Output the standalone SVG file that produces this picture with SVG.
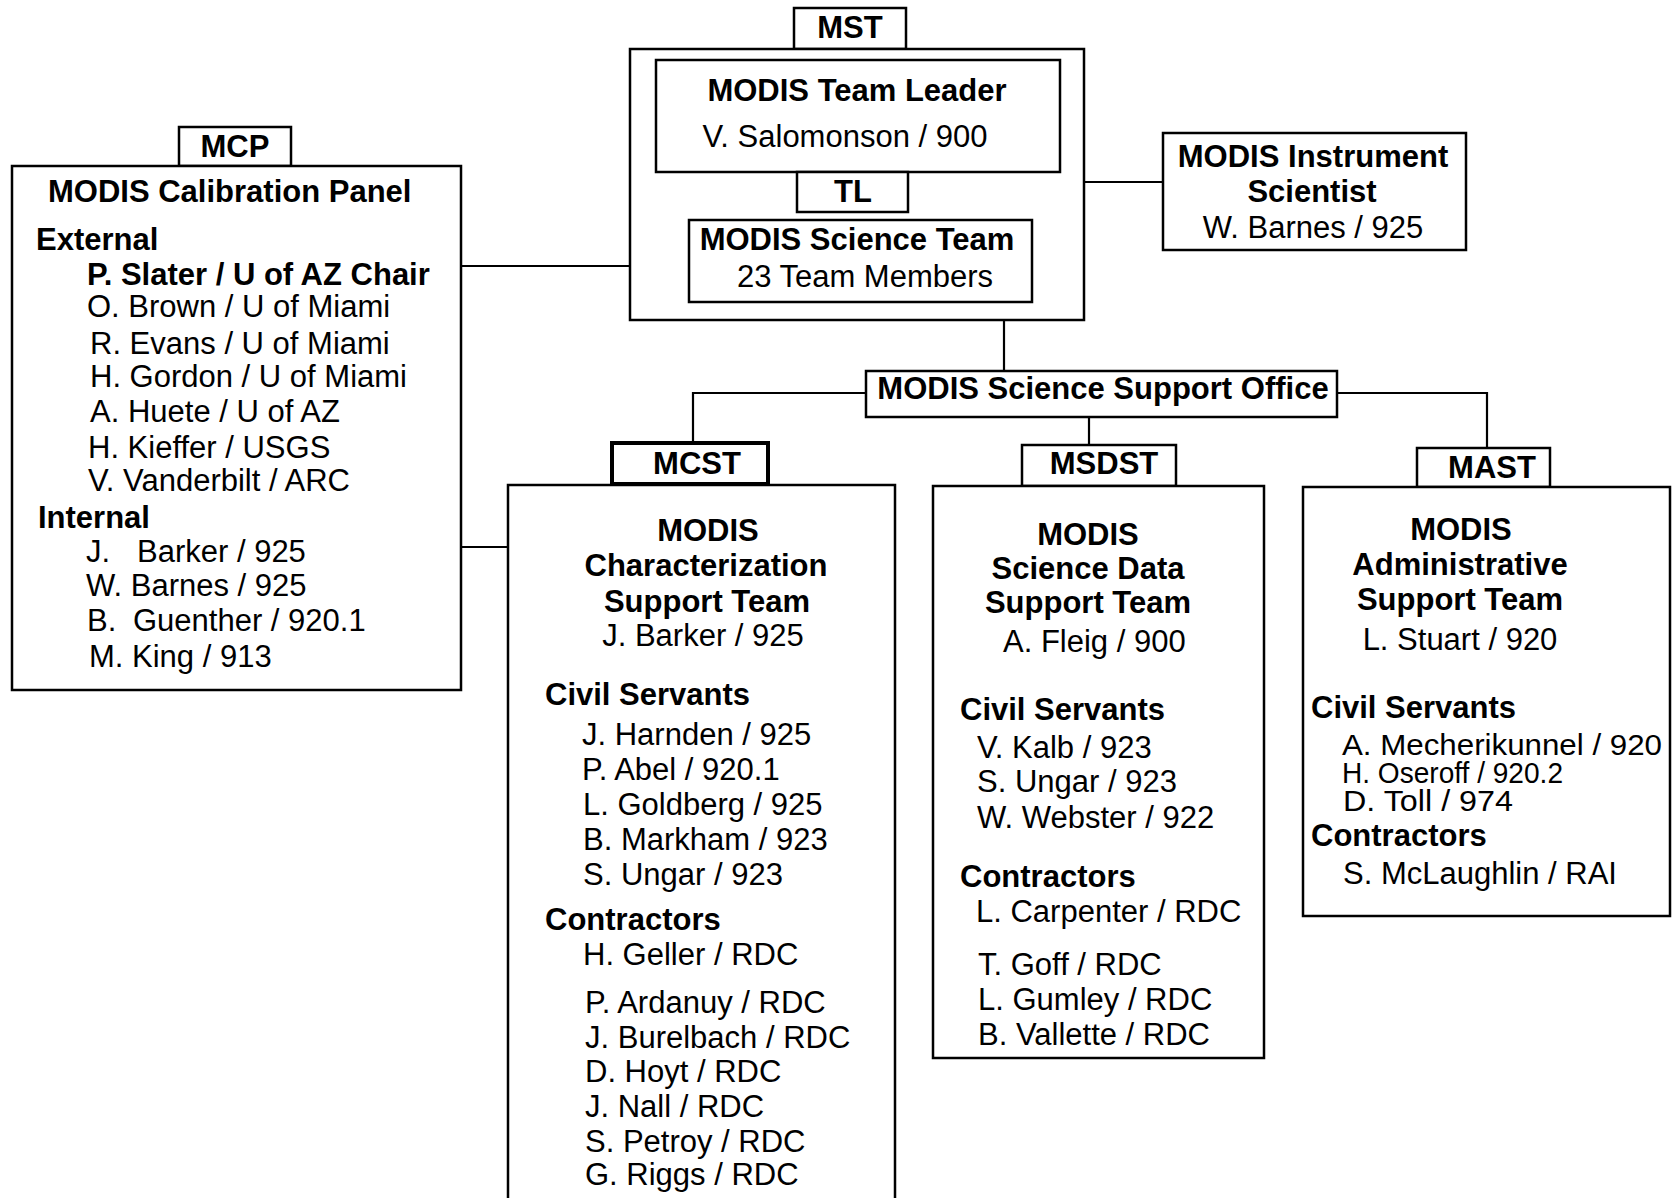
<svg xmlns="http://www.w3.org/2000/svg" width="1674" height="1198" viewBox="0 0 1674 1198">
<style>
text{font-family:"Liberation Sans",Arial,Helvetica,sans-serif;font-size:31px;fill:#000}
.b{font-weight:bold}
.c{text-anchor:middle}
.s{font-size:29px}
.box{fill:#fff;stroke:#000;stroke-width:2.5}
.tab{fill:#fff;stroke:#000;stroke-width:2.5}
.thick{stroke-width:4}
.con{fill:none;stroke:#000;stroke-width:2.2}
</style>
<rect width="1674" height="1198" fill="#fff"/>
<g id="connectors">
<path class="con" d="M461,266 H630"/>
<path class="con" d="M1084,182 H1163"/>
<path class="con" d="M1004,320 V371"/>
<path class="con" d="M866,393 H693 V442"/>
<path class="con" d="M1089,417 V445"/>
<path class="con" d="M1337,393 H1487 V448"/>
<path class="con" d="M461,547 H508"/>
</g>
<g id="mcp">
<rect class="tab" x="179" y="127" width="112" height="39"/>
<text class="b c" x="235" y="157">MCP</text>
<rect class="box" x="12" y="166" width="449" height="524"/>
<text class="b" x="48" y="202">MODIS Calibration Panel</text>
<text class="b" x="36" y="250">External</text>
<text class="b" x="87" y="285">P. Slater / U of AZ Chair</text>
<text x="87" y="317">O. Brown / U of Miami</text>
<text x="90" y="354">R. Evans / U of Miami</text>
<text x="90" y="387">H. Gordon / U of Miami</text>
<text x="90" y="422">A. Huete / U of AZ</text>
<text x="88" y="458">H. Kieffer / USGS</text>
<text x="88" y="491">V. Vanderbilt / ARC</text>
<text class="b" x="38" y="528">Internal</text>
<text x="86" y="562">J.<tspan x="137">Barker / 925</tspan></text>
<text x="86" y="596">W. Barnes / 925</text>
<text x="87" y="631">B.<tspan x="133">Guenther / 920.1</tspan></text>
<text x="89" y="667">M. King / 913</text>
</g>
<g id="mst">
<rect class="tab" x="794" y="8" width="112" height="41"/>
<text class="b c" x="850" y="38">MST</text>
<rect class="box" x="630" y="49" width="454" height="271"/>
<g id="tl">
<rect class="box" x="656" y="60" width="404" height="112"/>
<text class="b c" x="857" y="101">MODIS Team Leader</text>
<text class="c" x="845" y="147">V. Salomonson / 900</text>
<rect class="tab" x="797" y="172" width="111" height="40"/>
<text class="b c" x="853" y="202">TL</text>
</g>
<g id="science-team">
<rect class="box" x="689" y="220" width="343" height="82"/>
<text class="b c" x="857" y="250">MODIS Science Team</text>
<text class="c" x="865" y="287">23 Team Members</text>
</g>
</g>
<g id="mis">
<rect class="box" x="1163" y="133" width="303" height="117"/>
<text class="b c" x="1313" y="167">MODIS Instrument</text>
<text class="b c" x="1312" y="202">Scientist</text>
<text class="c" x="1313" y="238">W. Barnes / 925</text>
</g>
<g id="msso">
<rect class="box" x="866" y="371" width="471" height="46"/>
<text class="b c" x="1103" y="399">MODIS Science Support Office</text>
</g>
<g id="mcst">
<rect class="box" x="508" y="485" width="387" height="730"/>
<rect class="tab thick" x="612" y="443" width="156" height="41"/>
<text class="b c" x="697" y="474">MCST</text>
<text class="b c" x="708" y="541">MODIS</text>
<text class="b c" x="706" y="576">Characterization</text>
<text class="b c" x="707" y="612">Support Team</text>
<text class="c" x="703" y="646">J. Barker / 925</text>
<text class="b" x="545" y="705">Civil Servants</text>
<text x="582" y="745">J. Harnden / 925</text>
<text x="582" y="780">P. Abel / 920.1</text>
<text x="583" y="815">L. Goldberg / 925</text>
<text x="583" y="850">B. Markham / 923</text>
<text x="583" y="885">S. Ungar / 923</text>
<text class="b" x="545" y="930">Contractors</text>
<text x="583" y="965">H. Geller / RDC</text>
<text x="585" y="1013">P. Ardanuy / RDC</text>
<text x="585" y="1048">J. Burelbach / RDC</text>
<text x="585" y="1082">D. Hoyt / RDC</text>
<text x="585" y="1117">J. Nall / RDC</text>
<text x="585" y="1152">S. Petroy / RDC</text>
<text x="585" y="1185">G. Riggs / RDC</text>
</g>
<g id="msdst">
<rect class="tab" x="1022" y="445" width="154" height="41"/>
<text class="b c" x="1104" y="474">MSDST</text>
<rect class="box" x="933" y="486" width="331" height="572"/>
<text class="b c" x="1088" y="545">MODIS</text>
<text class="b c" x="1088" y="579">Science Data</text>
<text class="b c" x="1088" y="613">Support Team</text>
<text x="1003" y="652">A. Fleig / 900</text>
<text class="b" x="960" y="720">Civil Servants</text>
<text x="977" y="758">V. Kalb / 923</text>
<text x="977" y="792">S. Ungar / 923</text>
<text x="977" y="828">W. Webster / 922</text>
<text class="b" x="960" y="887">Contractors</text>
<text x="976" y="922">L. Carpenter / RDC</text>
<text x="978" y="975">T. Goff / RDC</text>
<text x="978" y="1010">L. Gumley / RDC</text>
<text x="978" y="1045">B. Vallette / RDC</text>
</g>
<g id="mast">
<rect class="tab" x="1417" y="448" width="133" height="39"/>
<text class="b c" x="1492" y="478">MAST</text>
<rect class="box" x="1303" y="487" width="367" height="429"/>
<text class="b c" x="1461" y="540">MODIS</text>
<text class="b c" x="1460" y="575">Administrative</text>
<text class="b c" x="1460" y="610">Support Team</text>
<text class="c" x="1460" y="650">L. Stuart / 920</text>
<text class="b" x="1311" y="718">Civil Servants</text>
<text class="s" x="1342" y="755" textLength="320" lengthAdjust="spacingAndGlyphs">A. Mecherikunnel / 920</text>
<text class="s" x="1342" y="783" textLength="221" lengthAdjust="spacingAndGlyphs">H. Oseroff / 920.2</text>
<text class="s" x="1343" y="811" textLength="170" lengthAdjust="spacingAndGlyphs">D. Toll / 974</text>
<text class="b" x="1311" y="846">Contractors</text>
<text x="1343" y="884">S. McLaughlin / RAI</text>
</g>
</svg>
